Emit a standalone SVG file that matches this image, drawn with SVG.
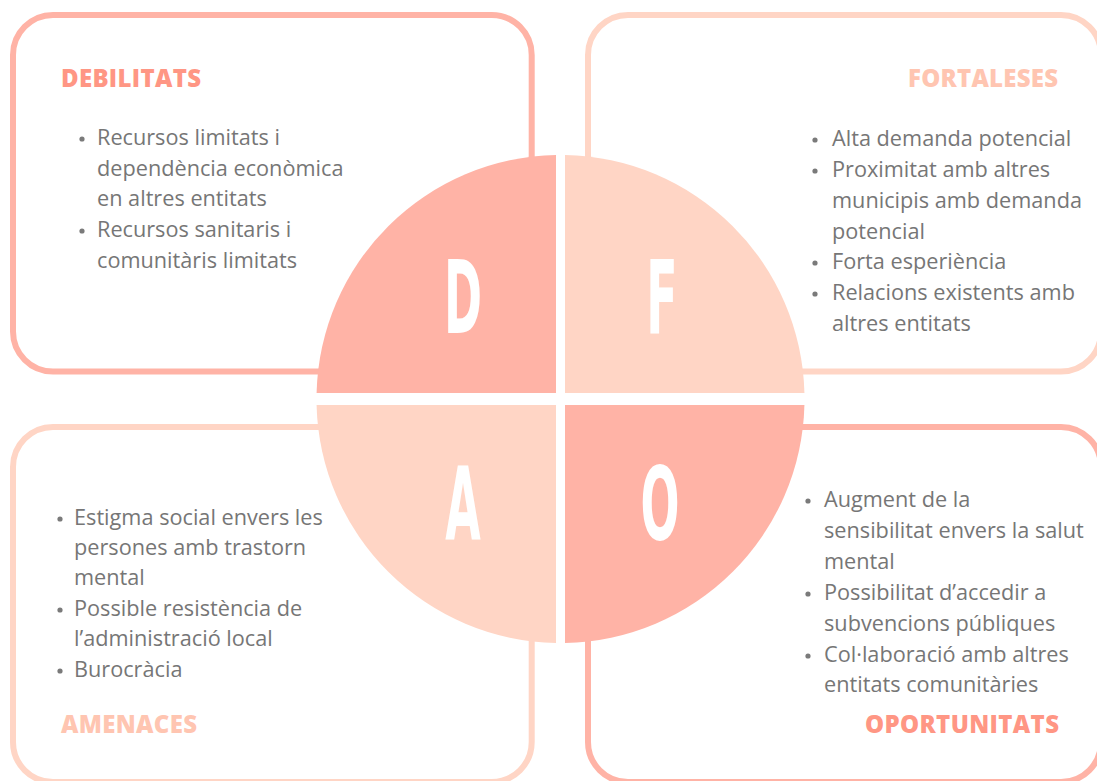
<svg xmlns="http://www.w3.org/2000/svg" width="1097" height="781" viewBox="0 0 1097 781">
  <style>
    .box { fill: none; stroke-width: 6; }
    .dark { stroke: #FFB3A6; }
    .light { stroke: #FFD5C5; }
    .qd { fill: #FFB3A6; }
    .ql { fill: #FFD5C5; }
    .letter { font-family: "DejaVu Sans", sans-serif; font-weight: bold; font-size: 102px; fill: #FFFFFF; text-anchor: middle; }
    .head { font-family: "Open Sans", "Liberation Sans", sans-serif; font-weight: 800; font-size: 24px; }
    .hd { fill: #FF9684; }
    .hl { fill: #FFC5B1; }
    .body { font-family: "Open Sans", "Liberation Sans", sans-serif; font-size: 21.7px; fill: #767676; }
    .dot { fill: #7A7A7A; }
  </style>
  <rect width="1097" height="781" fill="#FFFFFF"/>

  <g id="connectors"></g>

  <g id="debilitats">
    <rect class="box dark" x="13" y="15" width="518.7" height="356.5" rx="40" ry="40"/>
    <text class="head hd" x="61" y="87" textLength="140" lengthAdjust="spacing">DEBILITATS</text>
    <circle class="dot" cx="82" cy="139" r="2.6"/>
    <text class="body" x="97" y="145">Recursos limitats i</text>
    <text class="body" x="97" y="175.5">dependència econòmica</text>
    <text class="body" x="97" y="206">en altres entitats</text>
    <circle class="dot" cx="82" cy="231" r="2.6"/>
    <text class="body" x="97" y="237">Recursos sanitaris i</text>
    <text class="body" x="97" y="268">comunitàris limitats</text>
  </g>

  <g id="fortaleses">
    <rect class="box light" x="588" y="15" width="513" height="356.5" rx="40" ry="40"/>
    <text class="head hl" x="908" y="87" textLength="150" lengthAdjust="spacing">FORTALESES</text>
    <circle class="dot" cx="815" cy="140" r="2.6"/>
    <text class="body" x="832" y="146">Alta demanda potencial</text>
    <circle class="dot" cx="815" cy="171" r="2.6"/>
    <text class="body" x="832" y="177">Proximitat amb altres</text>
    <text class="body" x="832" y="208">municipis amb demanda</text>
    <text class="body" x="832" y="239">potencial</text>
    <circle class="dot" cx="815" cy="263" r="2.6"/>
    <text class="body" x="832" y="269">Forta esperiència</text>
    <circle class="dot" cx="815" cy="294" r="2.6"/>
    <text class="body" x="832" y="300">Relacions existents amb</text>
    <text class="body" x="832" y="331">altres entitats</text>
  </g>

  <g id="amenaces">
    <rect class="box light" x="13" y="427" width="518.7" height="355" rx="40" ry="40"/>
    <text class="head hl" x="61" y="733" textLength="136" lengthAdjust="spacing">AMENACES</text>
    <circle class="dot" cx="60" cy="519" r="2.6"/>
    <text class="body" x="74" y="525">Estigma social envers les</text>
    <text class="body" x="74" y="555">persones amb trastorn</text>
    <text class="body" x="74" y="585">mental</text>
    <circle class="dot" cx="60" cy="610" r="2.6"/>
    <text class="body" x="74" y="616">Possible resistència de</text>
    <text class="body" x="74" y="646">l’administració local</text>
    <circle class="dot" cx="60" cy="671" r="2.6"/>
    <text class="body" x="74" y="677">Burocràcia</text>
  </g>

  <g id="oportunitats">
    <rect class="box dark" x="588" y="427" width="513" height="355" rx="40" ry="40"/>
    <text class="head hd" x="865" y="733" textLength="194" lengthAdjust="spacing">OPORTUNITATS</text>
    <circle class="dot" cx="808" cy="501" r="2.6"/>
    <text class="body" x="824" y="507">Augment de la</text>
    <text class="body" x="824" y="538">sensibilitat envers la salut</text>
    <text class="body" x="824" y="569">mental</text>
    <circle class="dot" cx="808" cy="594" r="2.6"/>
    <text class="body" x="824" y="600">Possibilitat d’accedir a</text>
    <text class="body" x="824" y="631">subvencions públiques</text>
    <circle class="dot" cx="808" cy="656" r="2.6"/>
    <text class="body" x="824" y="662">Col·laboració amb altres</text>
    <text class="body" x="824" y="692">entitats comunitàries</text>
  </g>

  <g id="quadrant-d">
    <path class="qd" d="M556,393 L556,155.04 A244,244 0 0 0 316.57,393 Z"/>
    <text class="letter" transform="translate(463,333) scale(0.45,1)">D</text>
  </g>
  <g id="quadrant-f">
    <path class="ql" d="M565,393 L565,155.04 A244,244 0 0 1 804.43,393 Z"/>
    <text class="letter" transform="translate(662,333) scale(0.45,1)">F</text>
  </g>
  <g id="quadrant-a">
    <path class="ql" d="M556,405 L556,642.96 A244,244 0 0 1 316.57,405 Z"/>
    <text class="letter" transform="translate(463,540) scale(0.45,1)">A</text>
  </g>
  <g id="quadrant-o">
    <path class="qd" d="M565,405 L565,642.96 A244,244 0 0 0 804.43,405 Z"/>
    <text class="letter" transform="translate(660,540) scale(0.45,1)">O</text>
  </g>
</svg>
